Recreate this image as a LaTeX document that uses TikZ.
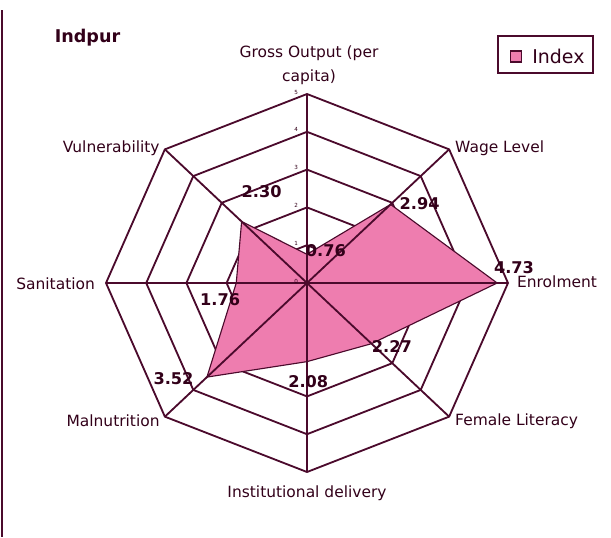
\documentclass[tikz,border=0pt]{standalone}
\usepackage{fontspec}
\setmainfont{DejaVu Sans}
\definecolor{maroon}{RGB}{75,10,44}
\definecolor{ink}{RGB}{50,0,25}
\definecolor{pinkfill}{RGB}{238,125,175}
\tikzset{ cat/.style = { inner sep = 0pt % category label
        , text = ink
        , font = \fontsize{11}{17}\selectfont
        }
        , val/.style = { inner sep = 0pt % data label
        , text = ink
        , font = \fontsize{11.5}{12}\selectfont\bfseries
        }
        , tick/.style = { inner sep = 0pt % scale label
        , text = ink
        , font = \fontsize{4}{4}\selectfont
        }
        }

\begin{document}
\begin{tikzpicture}[x=1.005cm, y=0.945cm,
        grid_style/.style={draw=maroon, line width=1.3pt, line join=miter},
        axis_style/.style={draw=maroon, line width=1.3pt},
        area_style/.style={draw=maroon, line width=0.8pt, fill=pinkfill},
        legend_style/.style={draw=maroon, line width=1.4pt, minimum width=2.375cm, minimum height=0.925cm, inner sep=0pt}]
        \useasboundingbox (-7.637,-6.720) rectangle (7.562,7.487);
        \draw [maroon, line width=1.8pt] (-7.59,7.22) -- (-7.59,-6.72);

        \coordinate (o) at (0,0);
        \foreach \i in {1,...,8} \coordinate (v\i) at ({135-45*\i}:5);
        % rings
        \foreach \r in {1,...,5}
            \draw [grid_style] (90:\r) -- (45:\r) -- (0:\r) -- (-45:\r) -- (-90:\r) -- (-135:\r) -- (180:\r) -- (135:\r) -- cycle;
        % data
        \foreach \a/\v [count=\i] in {90/0.76, 45/2.94, 0/4.73, -45/2.27, -90/2.08, -135/3.52, 180/1.76, 135/2.30}
            \coordinate (p\i) at (\a:\v);
        \draw [area_style] (p1) -- (p2) -- (p3) -- (p4) -- (p5) -- (p6) -- (p7) -- (p8) -- cycle;
        % axes
        \foreach \i in {1,...,8} \draw [axis_style] (o) -- (v\i);
        \foreach \r in {0,...,5} \node [tick] (t\r) at (-0.27,\r+0.05) {\r};

        \node [cat, align=center] (gross) at (0.05,5.75) {Gross Output (per\\capita)};
        \node [cat, anchor=west] (wage) at (3.68,3.57) {Wage Level};
        \node [cat, anchor=west] (enrol) at (5.22,0.03) {Enrolment};
        \node [cat, anchor=west] (female) at (3.68,-3.65) {Female Literacy};
        \node [cat] (inst) at (0,-5.56) {Institutional delivery};
        \node [cat, anchor=east] (maln) at (-3.66,-3.65) {Malnutrition};
        \node [cat, anchor=east] (sanit) at (-5.27,-0.03) {Sanitation};
        \node [cat, anchor=east] (vuln) at (-3.66,3.57) {Vulnerability};

        \node [val] (l1) at (0.47,0.85) {0.76};
        \node [val] (l2) at (2.80,2.11) {2.94};
        \node [val] (l3) at (5.15,0.42) {4.73};
        \node [val] (l4) at (2.11,-1.69) {2.27};
        \node [val] (l5) at (0.03,-2.61) {2.08};
        \node [val] (l6) at (-3.32,-2.54) {3.52};
        \node [val] (l7) at (-2.16,-0.44) {1.76};
        \node [val] (l8) at (-1.13,2.42) {2.30};

        \node [text=ink, font=\fontsize{12.5}{13}\selectfont\bfseries, anchor=west, inner sep=0pt] (title) at (-6.28,6.48) {Indpur};
        \node [legend_style] (legend) at (5.933,6.045) {};
        \node [draw=maroon, line width=1pt, fill=pinkfill, minimum size=0.28cm, inner sep=0pt] (mark) at (5.20,5.99) {};
        \node [text=ink, font=\fontsize{13.5}{14}\selectfont, anchor=west, inner sep=0pt] (idx) at (5.597,6.0) {Index};
\end{tikzpicture}
\end{document}
